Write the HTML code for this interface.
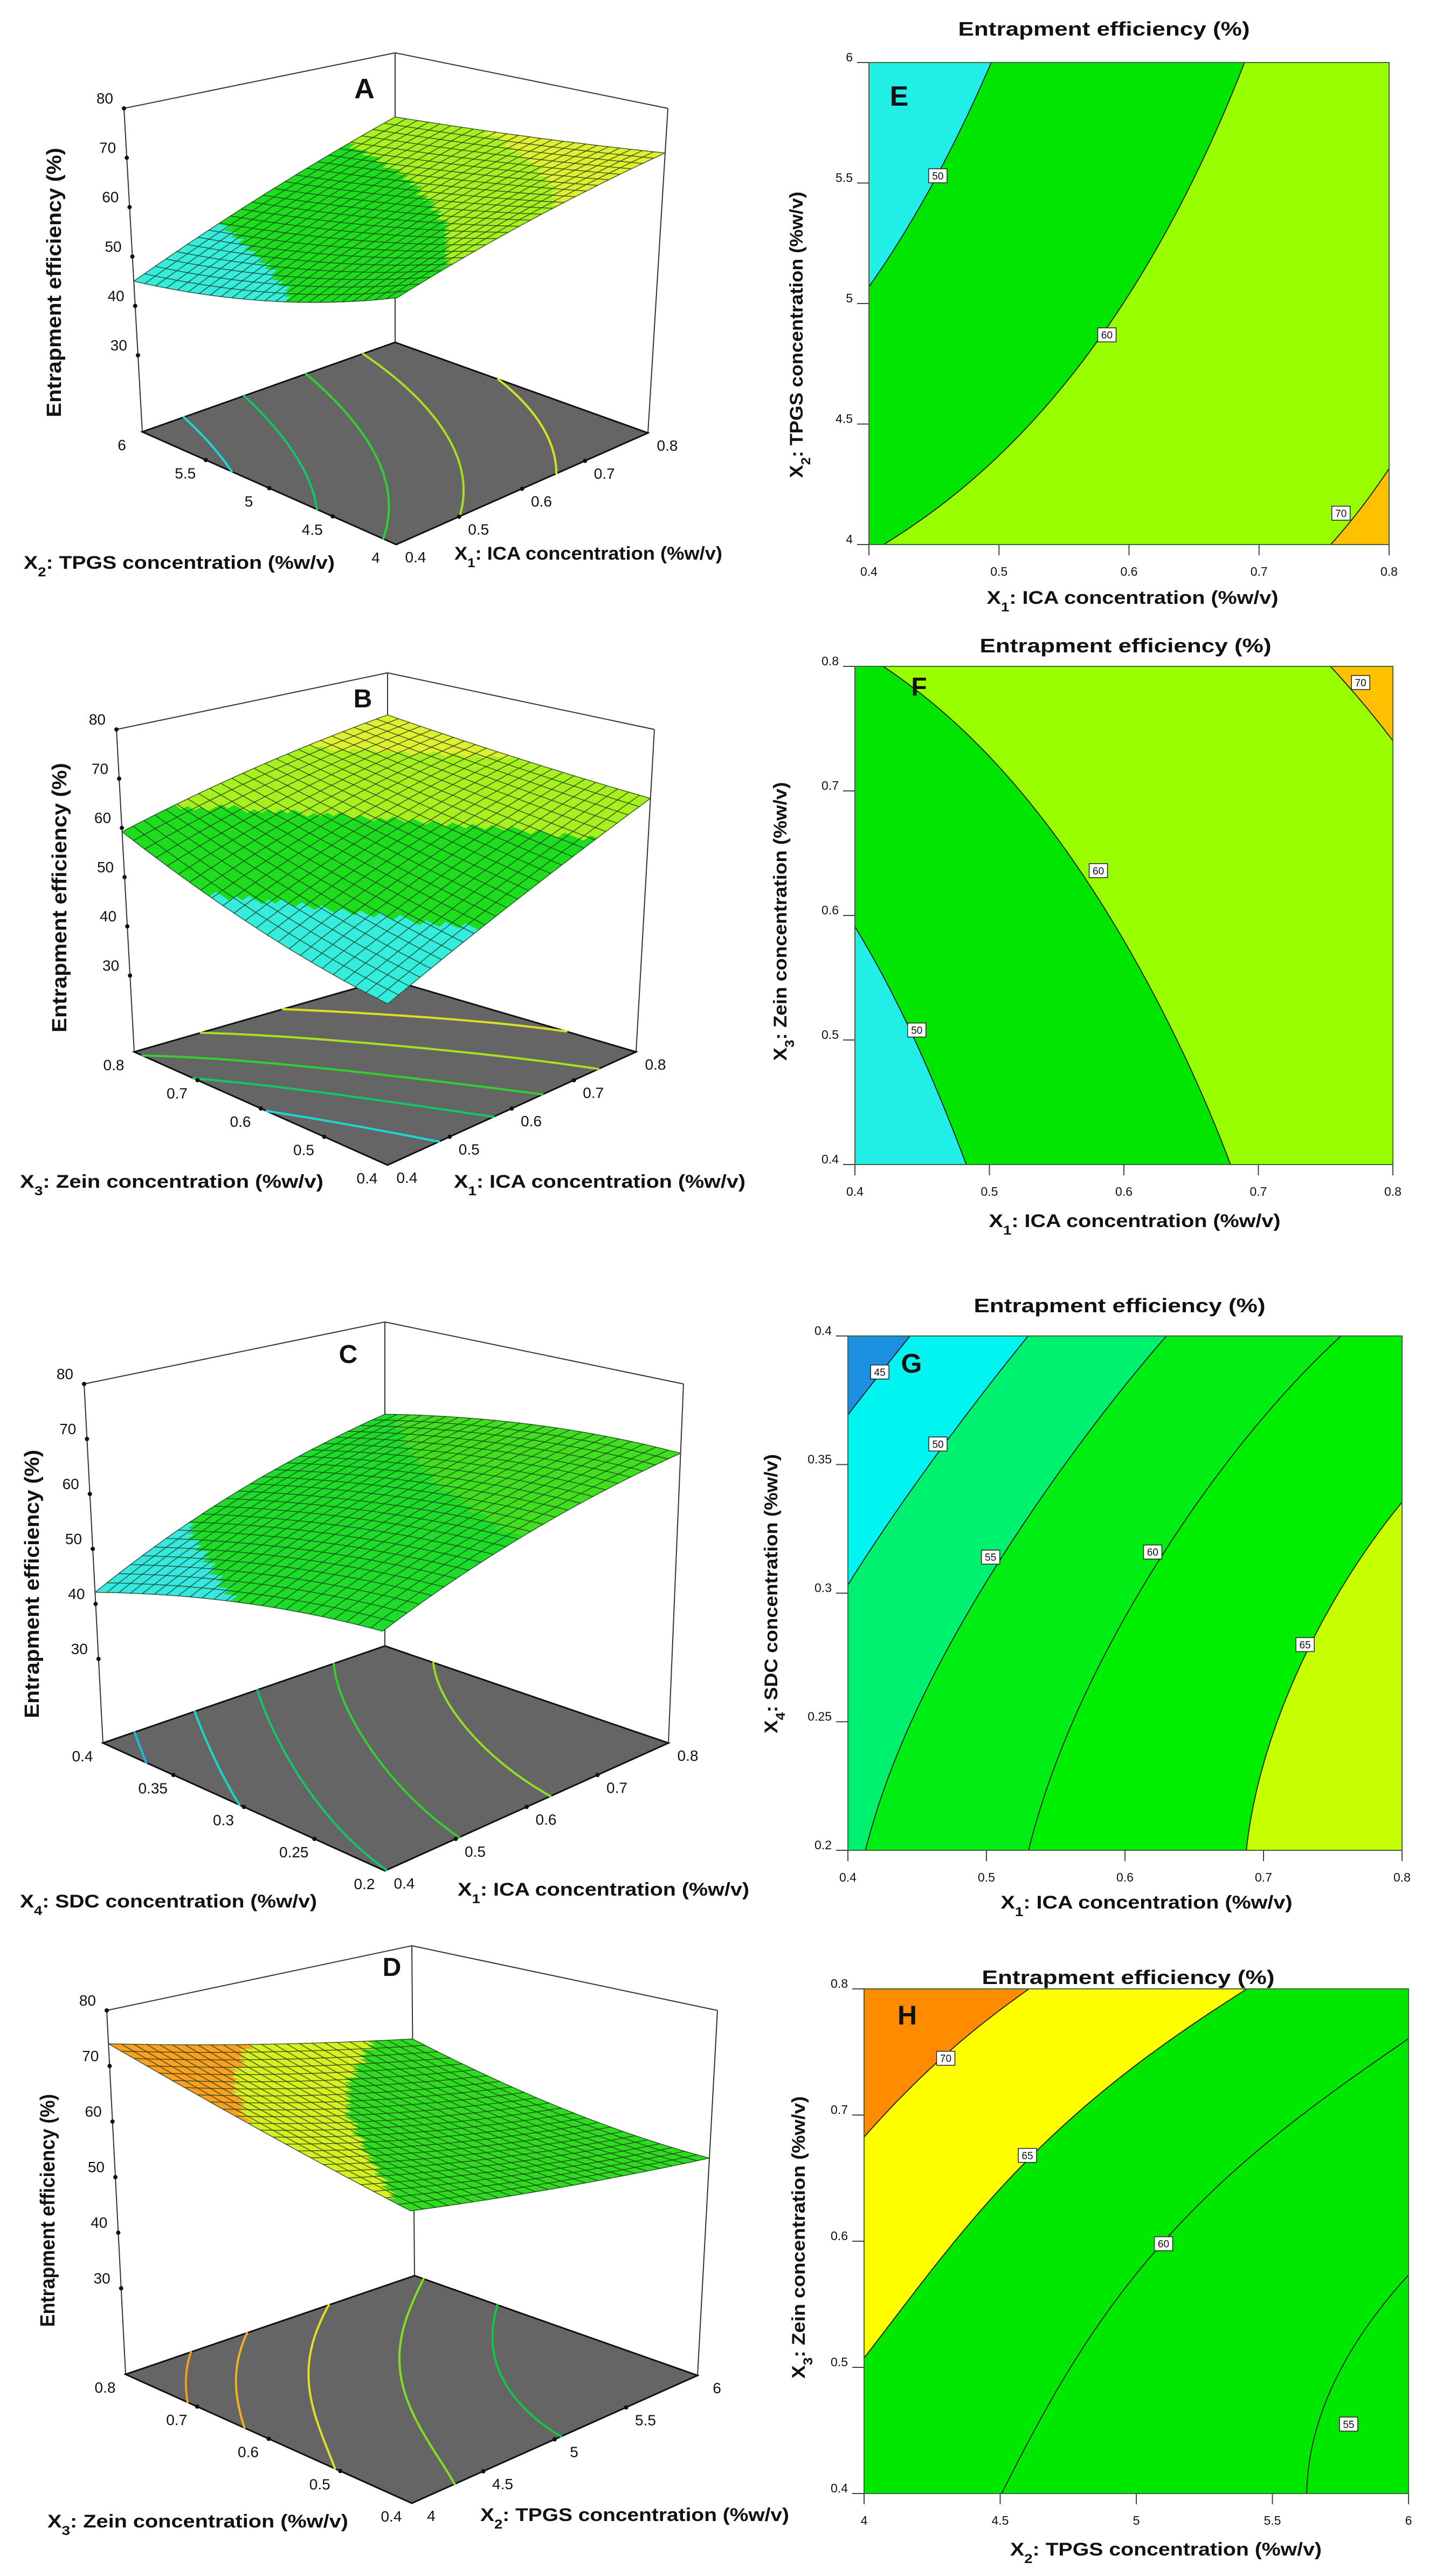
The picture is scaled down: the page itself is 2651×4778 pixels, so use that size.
<!DOCTYPE html>
<html><head><meta charset="utf-8">
<style>
html,body{margin:0;padding:0;background:#fff;}
#wrap{position:relative;width:2651px;height:4778px;overflow:hidden;background:#fff;}
canvas{position:absolute;}
svg{position:absolute;left:0;top:0;}
text{font-family:"Liberation Sans",sans-serif;fill:#111;}
.b{font-weight:bold;}
</style></head>
<body>
<div id="wrap">
<canvas id="cvE"></canvas>
<canvas id="cvF"></canvas>
<canvas id="cvG"></canvas>
<canvas id="cvH"></canvas>
<svg id="chart" width="2651" height="4778" viewBox="0 0 2651 4778">
<g id="marks"></g>
<text x="676" y="182" font-size="52" class="b" text-anchor="middle">A</text>
<text x="673" y="1312" font-size="48" class="b" text-anchor="middle">B</text>
<text x="646" y="2528" font-size="48" class="b" text-anchor="middle">C</text>
<text x="727" y="3665" font-size="48" class="b" text-anchor="middle">D</text>
<text x="1668" y="196" font-size="52" class="b" text-anchor="middle">E</text>
<text x="1705" y="1290" font-size="48" class="b" text-anchor="middle">F</text>
<text x="1691" y="2546" font-size="50" class="b" text-anchor="middle">G</text>
<text x="1683" y="3755" font-size="50" class="b" text-anchor="middle">H</text>
<text transform="translate(113,524) rotate(-90)" font-size="38" class="b" text-anchor="middle" textLength="500" lengthAdjust="spacingAndGlyphs">Entrapment  efficiency (%)</text>
<text transform="translate(123,1665) rotate(-90)" font-size="38" class="b" text-anchor="middle" textLength="500" lengthAdjust="spacingAndGlyphs">Entrapment  efficiency (%)</text>
<text transform="translate(72,2938) rotate(-90)" font-size="38" class="b" text-anchor="middle" textLength="498" lengthAdjust="spacingAndGlyphs">Entrapment  efficiency (%)</text>
<text transform="translate(101,4100) rotate(-90)" font-size="38" class="b" text-anchor="middle" textLength="432" lengthAdjust="spacingAndGlyphs">Entrapment  efficiency (%)</text>
<text x="44" y="1055" font-size="34" class="b" textLength="577" lengthAdjust="spacingAndGlyphs">X<tspan baseline-shift="sub" font-size="24">2</tspan>: TPGS concentration (%w/v)</text>
<text x="843" y="1038" font-size="34" class="b" textLength="497" lengthAdjust="spacingAndGlyphs">X<tspan baseline-shift="sub" font-size="24">1</tspan>: ICA concentration (%w/v)</text>
<text x="37" y="2203" font-size="34" class="b" textLength="563" lengthAdjust="spacingAndGlyphs">X<tspan baseline-shift="sub" font-size="24">3</tspan>: Zein concentration (%w/v)</text>
<text x="842" y="2203" font-size="34" class="b" textLength="541" lengthAdjust="spacingAndGlyphs">X<tspan baseline-shift="sub" font-size="24">1</tspan>: ICA concentration (%w/v)</text>
<text x="37" y="3538" font-size="34" class="b" textLength="551" lengthAdjust="spacingAndGlyphs">X<tspan baseline-shift="sub" font-size="24">4</tspan>: SDC concentration (%w/v)</text>
<text x="849" y="3516" font-size="34" class="b" textLength="541" lengthAdjust="spacingAndGlyphs">X<tspan baseline-shift="sub" font-size="24">1</tspan>: ICA concentration (%w/v)</text>
<text x="88" y="4688" font-size="34" class="b" textLength="558" lengthAdjust="spacingAndGlyphs">X<tspan baseline-shift="sub" font-size="24">3</tspan>: Zein concentration (%w/v)</text>
<text x="891" y="4676" font-size="34" class="b" textLength="573" lengthAdjust="spacingAndGlyphs">X<tspan baseline-shift="sub" font-size="24">2</tspan>: TPGS concentration (%w/v)</text>
<text x="2048" y="66" font-size="36" class="b" text-anchor="middle" textLength="541" lengthAdjust="spacingAndGlyphs">Entrapment  efficiency (%)</text>
<text x="2088" y="1210" font-size="36" class="b" text-anchor="middle" textLength="541" lengthAdjust="spacingAndGlyphs">Entrapment  efficiency (%)</text>
<text x="2077" y="2434" font-size="36" class="b" text-anchor="middle" textLength="541" lengthAdjust="spacingAndGlyphs">Entrapment  efficiency (%)</text>
<text x="2093" y="3680" font-size="36" class="b" text-anchor="middle" textLength="543" lengthAdjust="spacingAndGlyphs">Entrapment  efficiency (%)</text>
<text x="2101" y="1120" font-size="34" class="b" text-anchor="middle" textLength="541" lengthAdjust="spacingAndGlyphs">X<tspan baseline-shift="sub" font-size="24">1</tspan>: ICA concentration (%w/v)</text>
<text x="2105" y="2276" font-size="34" class="b" text-anchor="middle" textLength="541" lengthAdjust="spacingAndGlyphs">X<tspan baseline-shift="sub" font-size="24">1</tspan>: ICA concentration (%w/v)</text>
<text x="2127" y="3540" font-size="34" class="b" text-anchor="middle" textLength="541" lengthAdjust="spacingAndGlyphs">X<tspan baseline-shift="sub" font-size="24">1</tspan>: ICA concentration (%w/v)</text>
<text x="2163" y="4740" font-size="34" class="b" text-anchor="middle" textLength="578" lengthAdjust="spacingAndGlyphs">X<tspan baseline-shift="sub" font-size="24">2</tspan>: TPGS concentration (%w/v)</text>
<text transform="translate(1489,621) rotate(-90)" font-size="34" class="b" text-anchor="middle" textLength="531" lengthAdjust="spacingAndGlyphs">X<tspan baseline-shift="sub" font-size="24">2</tspan>: TPGS concentration (%w/v)</text>
<text transform="translate(1459,1709) rotate(-90)" font-size="34" class="b" text-anchor="middle" textLength="517" lengthAdjust="spacingAndGlyphs">X<tspan baseline-shift="sub" font-size="24">3</tspan>: Zein concentration (%w/v)</text>
<text transform="translate(1442,2956) rotate(-90)" font-size="34" class="b" text-anchor="middle" textLength="518" lengthAdjust="spacingAndGlyphs">X<tspan baseline-shift="sub" font-size="24">4</tspan>: SDC concentration (%w/v)</text>
<text transform="translate(1493,4150) rotate(-90)" font-size="34" class="b" text-anchor="middle" textLength="524" lengthAdjust="spacingAndGlyphs">X<tspan baseline-shift="sub" font-size="24">3</tspan>: Zein concentration (%w/v)</text>
</svg>
</div>
<script>
const gridAE = [[59.6, 66, 71],[50.5, 60.2, 68],[45, 55.5, 65.5]];
const gridBF = [[45.7, 56, 66],[50.3, 60.5, 68],[59.2, 66, 71]];
const gridCG = [[54.4, 62.45, 67.4],[50.2, 59.6, 66.3],[42.1, 53.6, 61.4]];
const gridDH = [[62.5, 57.7, 53.5],[67.5, 60.6, 55.5],[74, 67.5, 61.5]];

const xRangeE = [0.4, 0.8], yRangeE = [4, 6];
const xRangeF = [0.4, 0.8], yRangeF = [0.4, 0.8];
const xRangeG = [0.4, 0.8], yRangeG = [0.2, 0.4];
const xRangeH = [4, 6],     yRangeH = [0.4, 0.8];

const xTicksE = [0.4,0.5,0.6,0.7,0.8], yTicksE = [4,4.5,5,5.5,6];
const xTicksF = [0.4,0.5,0.6,0.7,0.8], yTicksF = [0.4,0.5,0.6,0.7,0.8];
const xTicksG = [0.4,0.5,0.6,0.7,0.8], yTicksG = [0.2,0.25,0.3,0.35,0.4];
const xTicksH = [4,4.5,5,5.5,6],       yTicksH = [0.4,0.5,0.6,0.7,0.8];

const levelsE = [50,60,70];
const levelsF = [50,60,70];
const levelsG = [45,50,55,60,65];
const levelsH = [55,60,65,70];
const bandsE = ['#22eee8','#00e600','#99ff00','#ffc000'];
const bandsF = ['#22eee8','#00e600','#99ff00','#ffc000'];
const bandsG = ['#1b8fe0','#00f5f0','#00f070','#00ee14','#00ee00','#c8ff00'];
const bandsH = ['#00e800','#00e800','#00e800','#ffff00','#ff8c00'];

const labelPosE = [[0.453,5.53],[0.583,4.87],[0.763,4.13]];
const labelTxtE = ['50','60','70'];
const labelPosF = [[0.446,0.508],[0.581,0.636],[0.776,0.787]];
const labelTxtF = ['50','60','70'];
const labelPosG = [[0.423,0.386],[0.465,0.358],[0.503,0.314],[0.62,0.316],[0.73,0.28]];
const labelTxtG = ['45','50','55','60','65'];
const labelPosH = [[4.3,0.745],[4.6,0.668],[5.1,0.598],[5.78,0.455]];
const labelTxtH = ['70','65','60','55'];

const zTicks3D = [30,40,50,60,70,80];
const uTicksA = ['0.4','0.5','0.6','0.7','0.8'], vTicksA = ['4','4.5','5','5.5','6'];
const uTicksB = ['0.4','0.5','0.6','0.7','0.8'], vTicksB = ['0.4','0.5','0.6','0.7','0.8'];
const uTicksC = ['0.4','0.5','0.6','0.7','0.8'], vTicksC = ['0.2','0.25','0.3','0.35','0.4'];
const uTicksD = ['4','4.5','5','5.5','6'],       vTicksD = ['0.4','0.5','0.6','0.7','0.8'];
const floorLevelsA = [48.5,53.5,58.5,63,67.5];
const floorLevelsB = [50,54.5,58.5,63,67];
const floorLevelsC = [45,50,54.5,59,63.5];
const floorLevelsD = [57.5,61,65,68.5,71];
const floorColorsA = ['#18d8d0','#10c868','#30d030','#a8e020','#d8e020'];
const floorColorsB = ['#18d8d0','#10c868','#30d030','#a8e020','#d8e020'];
const floorColorsC = ['#18b8e0','#18d8c8','#10c868','#30d030','#90e020'];
const floorColorsD = ['#10c840','#80e020','#e0e020','#f0b020','#f0a020'];
const surfLevelsA = [52,62,67], surfColorsA = ['#36ecdc','#1edc1e','#a8f020','#e0f030'];
const surfLevelsB = [53,62,68], surfColorsB = ['#36ecdc','#1edc1e','#a8f020','#e0f030'];
const surfLevelsC = [50,62],      surfColorsC = ['#36e8e0','#1edc2a','#40e020'];
const surfLevelsD = [63,68],      surfColorsD = ['#30dc20','#d8f020','#ffa020'];

const L3 = {
 A:{f00:[735,1010],f10:[1202,803],f01:[264,801],f11:[733,635],t00:[738,345],t10:[1239,201],t01:[230,201],t11:[733,98],zf:14.5},
 B:{f00:[719,2161],f10:[1180,1951],f01:[249,1951],f11:[719,1816],t00:[720,1533],t10:[1214,1353],t01:[216,1353],t11:[719,1248],zf:14.5},
 C:{f00:[714,3470],f10:[1240,3233],f01:[191,3233],f11:[714,3053],t00:[707,2739],t10:[1268,2567],t01:[156,2567],t11:[714,2452],zf:14.7},
 D:{f00:[764,4643],f10:[1294,4406],f01:[233,4404],f11:[769,4221],t00:[761,3903],t10:[1331,3729],t01:[198,3729],t11:[764,3609],zf:14.5}
};
const L2 = {E:{l:1612,r:2577,t:116,b:1010},F:{l:1586,r:2584,t:1236,b:2160},G:{l:1573,r:2601,t:2478,b:3432},H:{l:1603,r:2613,t:3689,b:4625}};

const NS='http://www.w3.org/2000/svg';
const layer=document.getElementById('marks');
function el(tag,parent){const e=document.createElementNS(NS,tag);(parent||layer).appendChild(e);return e;}
function Lb(t,k){return k===0?2*(t-0.5)*(t-1):(k===1?-4*t*(t-1):2*t*(t-0.5));}
function bq(g,u,v){let s=0;for(let j=0;j<3;j++)for(let i=0;i<3;i++)s+=g[j][i]*Lb(u,i)*Lb(v,j);return s;}
function band(z,lv,cols){let k=0;while(k<lv.length&&z>=lv[k])k++;return cols[k];}
function contourSegs(g,level,N){
  const Z=[];for(let j=0;j<=N;j++){Z.push([]);for(let i=0;i<=N;i++)Z[j].push(bq(g,i/N,j/N));}
  const segs=[];
  for(let j=0;j<N;j++)for(let i=0;i<N;i++){
    const c=[[i,j,Z[j][i]],[i+1,j,Z[j][i+1]],[i+1,j+1,Z[j+1][i+1]],[i,j+1,Z[j+1][i]]];
    const pts=[];
    for(let k=0;k<4;k++){const a=c[k],b=c[(k+1)%4];
      if((a[2]-level)*(b[2]-level)<0){const t=(level-a[2])/(b[2]-a[2]);pts.push([(a[0]+t*(b[0]-a[0]))/N,(a[1]+t*(b[1]-a[1]))/N]);}}
    if(pts.length>=2)segs.push([pts[0],pts[1]]);
    if(pts.length===4)segs.push([pts[2],pts[3]]);
  }
  return segs;
}
function bil(P,a,u,v){const c00=P[a+'00'],c10=P[a+'10'],c01=P[a+'01'],c11=P[a+'11'];
  return [c00[0]*(1-u)*(1-v)+c10[0]*u*(1-v)+c01[0]*(1-u)*v+c11[0]*u*v, c00[1]*(1-u)*(1-v)+c10[1]*u*(1-v)+c01[1]*(1-u)*v+c11[1]*u*v];}
function proj(P,u,v,z){const f=bil(P,'f',u,v),t=bil(P,'t',u,v);const s=(z-P.zf)/(80-P.zf);return [f[0]+s*(t[0]-f[0]),f[1]+s*(t[1]-f[1])];}
function pstr(p){return p[0].toFixed(1)+','+p[1].toFixed(1);}

function draw3D(key,grid,uT,vT,fLv,fCol,sLv,sCol){
  const P=L3[key];const k=key.toLowerCase();
  const g=el('g');
  
  
  const edges=[[P.t01,P.t11],[P.t11,P.t10],[P.f01,P.t01],[P.f10,P.t10],[P.f11,P.t11]];
  edges.forEach(function(e){const ln=el('line',g);
    
    
    ln.setAttribute('x1',e[0][0]);ln.setAttribute('y1',e[0][1]);ln.setAttribute('x2',e[1][0]);ln.setAttribute('y2',e[1][1]);
    ln.setAttribute('stroke','#333');ln.setAttribute('stroke-width','2');});
  const fl=el('polygon',g);
  
  
  fl.setAttribute('points',[P.f00,P.f10,P.f11,P.f01].map(pstr).join(' '));
  fl.setAttribute('fill','#656565');fl.setAttribute('stroke','#111');fl.setAttribute('stroke-width','3');
  fLv.forEach(function(lv,idx){
    const segs=contourSegs(grid,lv,60);let d='';
    segs.forEach(function(s){const a=proj(P,s[0][0],s[0][1],P.zf),b=proj(P,s[1][0],s[1][1],P.zf);d+='M'+pstr(a)+'L'+pstr(b);});
    const pth=el('path',g);
    
    
    pth.setAttribute('d',d);pth.setAttribute('stroke',fCol[idx]);pth.setAttribute('stroke-width','4');pth.setAttribute('fill','none');pth.setAttribute('stroke-linecap','round');
  });
  zTicks3D.forEach(function(z){const p=proj(P,0,1,z);
    const c=el('circle',g);
    
    
    c.setAttribute('cx',p[0]);c.setAttribute('cy',p[1]);c.setAttribute('r','4');c.setAttribute('fill','#111');
    const t=el('text',g);
    
    
    t.setAttribute('x',p[0]-20);t.setAttribute('y',p[1]-9);t.setAttribute('font-size','28');t.setAttribute('text-anchor','end');
    t.textContent=String(z);});
  uT.forEach(function(lab,i){const u=i/(uT.length-1);const p=proj(P,u,0,P.zf);
    if(i>0&&i<uT.length-1){const c=el('circle',g);
      
      
      c.setAttribute('cx',p[0]);c.setAttribute('cy',p[1]);c.setAttribute('r','4');c.setAttribute('fill','#111');}
    const t=el('text',g);
    
    
    t.setAttribute('x',p[0]+36);t.setAttribute('y',p[1]+33);t.setAttribute('font-size','28');t.setAttribute('text-anchor','middle');
    t.textContent=lab;});
  vT.forEach(function(lab,i){const v=i/(vT.length-1);const p=proj(P,0,v,P.zf);
    if(i>0&&i<vT.length-1){const c=el('circle',g);
      
      
      c.setAttribute('cx',p[0]);c.setAttribute('cy',p[1]);c.setAttribute('r','4');c.setAttribute('fill','#111');}
    const t=el('text',g);
    
    
    t.setAttribute('x',p[0]-38);t.setAttribute('y',p[1]+34);t.setAttribute('font-size','28');t.setAttribute('text-anchor','middle');
    t.textContent=lab;});
  const N=40,cells=[];
  for(let j=0;j<N;j++)for(let i=0;i<N;i++)cells.push([i,j]);
  cells.sort(function(a,b){return (b[0]+b[1])-(a[0]+a[1]);});
  const sg=el('g',g);
  
  
  cells.forEach(function(c){const u0=c[0]/N,v0=c[1]/N,u1=(c[0]+1)/N,v1=(c[1]+1)/N;
    const pts=[[u0,v0],[u1,v0],[u1,v1],[u0,v1]].map(function(q){return proj(P,q[0],q[1],bq(grid,q[0],q[1]));});
    const col=band(bq(grid,(u0+u1)/2,(v0+v1)/2),sLv,sCol);
    const pg=el('polygon',sg);
    
    
    pg.setAttribute('points',pts.map(pstr).join(' '));pg.setAttribute('fill',col);pg.setAttribute('stroke',col);pg.setAttribute('stroke-width','0.8');});
  const M=24;
  for(let m=0;m<=M;m++){
    let d1='',d2='';
    for(let s=0;s<=40;s++){const a=m/M,b=s/40;
      const p1=proj(P,a,b,bq(grid,a,b)),p2=proj(P,b,a,bq(grid,b,a));
      d1+=(s?'L':'M')+pstr(p1);d2+=(s?'L':'M')+pstr(p2);}
    const l1=el('path',sg);
    
    
    l1.setAttribute('d',d1);l1.setAttribute('stroke','#1a3a1a');l1.setAttribute('stroke-opacity','0.75');l1.setAttribute('stroke-width','1.6');l1.setAttribute('fill','none');
    const l2=el('path',sg);
    
    
    l2.setAttribute('d',d2);l2.setAttribute('stroke','#1a3a1a');l2.setAttribute('stroke-opacity','0.75');l2.setAttribute('stroke-width','1.6');l2.setAttribute('fill','none');
  }
}
draw3D('A',gridAE,uTicksA,vTicksA,floorLevelsA,floorColorsA,surfLevelsA,surfColorsA);
draw3D('B',gridBF,uTicksB,vTicksB,floorLevelsB,floorColorsB,surfLevelsB,surfColorsB);
draw3D('C',gridCG,uTicksC,vTicksC,floorLevelsC,floorColorsC,surfLevelsC,surfColorsC);
draw3D('D',gridDH,uTicksD,vTicksD,floorLevelsD,floorColorsD,surfLevelsD,surfColorsD);

function hex(c){return [parseInt(c.substr(1,2),16),parseInt(c.substr(3,2),16),parseInt(c.substr(5,2),16)];}
function draw2D(key,grid,xR,yR,xT,yT,lv,bands,lPos,lTxt){
  const R=L2[key],k=key.toLowerCase();const W=R.r-R.l,H=R.b-R.t;
  const xs=function(x){return R.l+(x-xR[0])/(xR[1]-xR[0])*W;};
  const ys=function(y){return R.b-(y-yR[0])/(yR[1]-yR[0])*H;};
  const cv=document.getElementById('cv'+key);
  cv.width=W;cv.height=H;cv.style.left=R.l+'px';cv.style.top=R.t+'px';
  const ctx=cv.getContext('2d');const img=ctx.createImageData(W,H);const bc=bands.map(hex);
  for(let py=0;py<H;py++)for(let px=0;px<W;px++){
    const z=bq(grid,(px+0.5)/W,1-(py+0.5)/H);let b=0;while(b<lv.length&&z>=lv[b])b++;
    const o=(py*W+px)*4;img.data[o]=bc[b][0];img.data[o+1]=bc[b][1];img.data[o+2]=bc[b][2];img.data[o+3]=255;}
  ctx.putImageData(img,0,0);
  const g=el('g');
  
  
  lv.forEach(function(l){const segs=contourSegs(grid,l,140);let d='';
    segs.forEach(function(s){d+='M'+(R.l+s[0][0]*W).toFixed(1)+','+(R.b-s[0][1]*H).toFixed(1)+'L'+(R.l+s[1][0]*W).toFixed(1)+','+(R.b-s[1][1]*H).toFixed(1);});
    const p=el('path',g);
    
    
    p.setAttribute('d',d);p.setAttribute('stroke','#1a1a1a');p.setAttribute('stroke-width','1.8');p.setAttribute('fill','none');});
  const fr=el('rect',g);
  
  
  fr.setAttribute('x',R.l);fr.setAttribute('y',R.t);fr.setAttribute('width',W);fr.setAttribute('height',H);fr.setAttribute('fill','none');fr.setAttribute('stroke','#3a6a3a');fr.setAttribute('stroke-width','2');
  xT.forEach(function(x){const X=xs(x);
    const tk=el('line',g);
    
    
    tk.setAttribute('x1',X);tk.setAttribute('x2',X);tk.setAttribute('y1',R.b);tk.setAttribute('y2',R.b+20);tk.setAttribute('stroke','#444');tk.setAttribute('stroke-width','2');
    const t=el('text',g);
    
    
    t.setAttribute('x',X);t.setAttribute('y',R.b+58);t.setAttribute('font-size','23');t.setAttribute('text-anchor','middle');t.setAttribute('fill','#333');
    t.textContent=String(x);});
  yT.forEach(function(y){const Y=ys(y);
    const tk=el('line',g);
    
    
    tk.setAttribute('x1',R.l-22);tk.setAttribute('x2',R.l);tk.setAttribute('y1',Y);tk.setAttribute('y2',Y);tk.setAttribute('stroke','#444');tk.setAttribute('stroke-width','2');
    const t=el('text',g);
    
    
    t.setAttribute('x',R.l-30);t.setAttribute('y',Y-2);t.setAttribute('font-size','23');t.setAttribute('text-anchor','end');t.setAttribute('fill','#333');
    t.textContent=String(y);});
  lPos.forEach(function(p,i){const X=xs(p[0]),Y=ys(p[1]);
    const bx=el('rect',g);
    
    
    bx.setAttribute('x',X-17);bx.setAttribute('y',Y-13);bx.setAttribute('width','34');bx.setAttribute('height','26');bx.setAttribute('fill','#fff');bx.setAttribute('stroke','#222');bx.setAttribute('stroke-width','1.5');
    const t=el('text',g);
    
    
    t.setAttribute('x',X);t.setAttribute('y',Y+7);t.setAttribute('font-size','19');t.setAttribute('text-anchor','middle');
    t.textContent=lTxt[i];});
}
draw2D('E',gridAE,xRangeE,yRangeE,xTicksE,yTicksE,levelsE,bandsE,labelPosE,labelTxtE);
draw2D('F',gridBF,xRangeF,yRangeF,xTicksF,yTicksF,levelsF,bandsF,labelPosF,labelTxtF);
draw2D('G',gridCG,xRangeG,yRangeG,xTicksG,yTicksG,levelsG,bandsG,labelPosG,labelTxtG);
draw2D('H',gridDH,xRangeH,yRangeH,xTicksH,yTicksH,levelsH,bandsH,labelPosH,labelTxtH);
</script>
</body></html>
